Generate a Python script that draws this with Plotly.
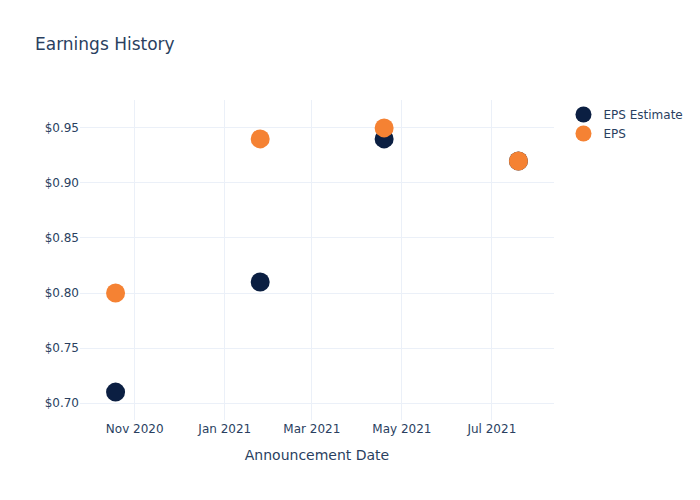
import plotly.graph_objects as go

dates = ["2020-10-19", "2021-01-25", "2021-04-19", "2021-07-19"]
eps_estimate = [0.71, 0.81, 0.94, 0.92]
eps_actual = [0.80, 0.94, 0.95, 0.92]

fig = go.Figure()
fig.add_trace(go.Scatter(x=dates, y=eps_estimate, mode="markers", name="EPS Estimate",
                         marker=dict(color="#0b1f42", size=19)))
fig.add_trace(go.Scatter(x=dates, y=eps_actual, mode="markers", name="EPS",
                         marker=dict(color="#f58233", size=19)))
fig.update_layout(
    template="plotly_white",
    width=700, height=500,
    title=dict(text="Earnings History"),
    xaxis=dict(title="Announcement Date"),
    yaxis=dict(tickprefix="$", tickformat=".2f"),
    font=dict(family="DejaVu Sans, Open Sans, sans-serif"),
)
fig.write_html("out.html")
